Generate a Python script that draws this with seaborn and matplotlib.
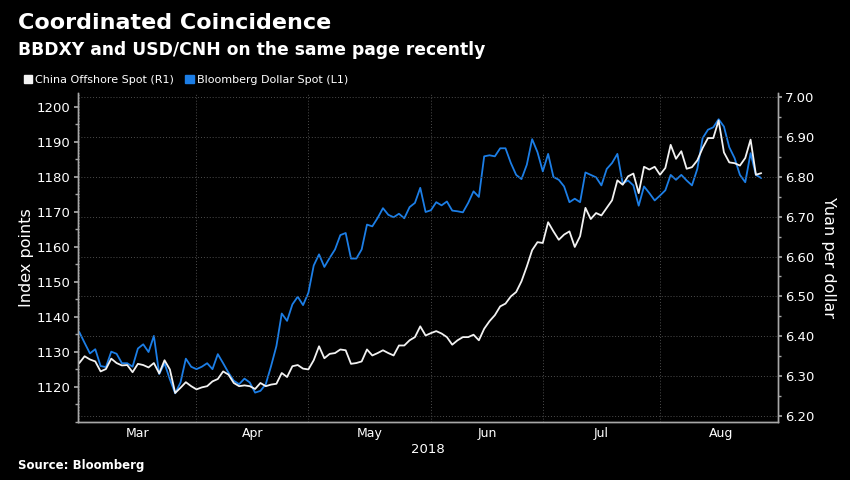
# Bloomberg-style dual axis chart: BBDXY vs USD/CNH, Mar-Aug 2018

import numpy as np
import pandas as pd
import seaborn as sns
import matplotlib.pyplot as plt
from matplotlib.patches import Patch
from matplotlib.ticker import MultipleLocator, FixedLocator, FormatStrFormatter

# business days shown on the chart
dates = pd.bdate_range('2018-03-01', '2018-08-28')
months = ['Mar', 'Apr', 'May', 'Jun', 'Jul', 'Aug']

# Bloomberg Dollar Spot index (left axis)
bbdxy = [1135.6, 1132.5, 1129.5, 1130.7, 1125.9, 1125.6, 1130.0, 1129.4, 1126.7, 1126.7,
         1125.7, 1130.9, 1132.1, 1129.9, 1134.5, 1123.6, 1126.7, 1122.1, 1118.1, 1121.2,
         1128.0, 1125.7, 1125.0, 1125.7, 1126.7, 1125.0, 1129.3, 1126.7, 1124.0, 1121.7,
         1120.7, 1122.3, 1121.2, 1118.3, 1118.8, 1120.7, 1125.9, 1131.6, 1140.9, 1138.8,
         1143.5, 1145.7, 1143.3, 1146.8, 1154.6, 1157.8, 1154.2, 1156.8, 1159.2, 1163.3,
         1163.9, 1156.6, 1156.6, 1159.2, 1166.3, 1165.8, 1168.2, 1171.0, 1169.1, 1168.4,
         1169.4, 1168.1, 1171.3, 1172.5, 1176.8, 1169.9, 1170.4, 1172.7, 1171.8, 1172.9,
         1170.3, 1170.1, 1169.8, 1172.5, 1175.8, 1174.2, 1185.8, 1186.1, 1185.8, 1188.1,
         1188.1, 1183.9, 1180.5, 1179.3, 1183.4, 1190.7, 1187.0, 1181.5, 1186.5, 1179.9,
         1179.1, 1177.2, 1172.7, 1173.7, 1172.7, 1181.2, 1180.5, 1179.8, 1177.5, 1182.2,
         1183.9, 1186.5, 1178.0, 1178.9, 1177.5, 1171.7, 1177.2, 1175.3, 1173.2, 1174.6,
         1176.1, 1180.5, 1179.1, 1180.5, 1178.9, 1177.5, 1182.2, 1191.0, 1193.4, 1194.1,
         1196.4, 1194.3, 1188.4, 1185.3, 1180.5, 1178.4, 1186.7, 1180.5, 1179.6]

# China offshore yuan spot (right axis)
cnh = [6.333, 6.350, 6.342, 6.337, 6.312, 6.318, 6.344, 6.333, 6.327, 6.328,
       6.310, 6.331, 6.328, 6.322, 6.333, 6.307, 6.340, 6.317, 6.258, 6.271,
       6.285, 6.275, 6.267, 6.272, 6.275, 6.287, 6.293, 6.312, 6.304, 6.283,
       6.275, 6.277, 6.275, 6.268, 6.283, 6.275, 6.279, 6.281, 6.308, 6.298,
       6.325, 6.328, 6.319, 6.317, 6.340, 6.375, 6.345, 6.356, 6.358, 6.367,
       6.365, 6.331, 6.333, 6.337, 6.367, 6.352, 6.358, 6.365, 6.358, 6.352,
       6.377, 6.377, 6.390, 6.398, 6.425, 6.402, 6.408, 6.413, 6.407, 6.398,
       6.379, 6.390, 6.398, 6.398, 6.404, 6.390, 6.419, 6.438, 6.453, 6.475,
       6.482, 6.500, 6.511, 6.538, 6.575, 6.616, 6.636, 6.634, 6.686, 6.663,
       6.642, 6.655, 6.663, 6.624, 6.651, 6.722, 6.694, 6.709, 6.703, 6.722,
       6.741, 6.791, 6.780, 6.801, 6.808, 6.759, 6.825, 6.818, 6.825, 6.805,
       6.822, 6.880, 6.845, 6.864, 6.820, 6.824, 6.841, 6.872, 6.897, 6.897,
       6.941, 6.861, 6.836, 6.834, 6.828, 6.847, 6.893, 6.805, 6.809]

blue = '#1c7ee6'
white = '#f2f2f2'
grid_col = '#4d4d4d'
spine_col = '#a8a8a8'

# x axis uses business-day positions, like the Bloomberg terminal
df = pd.DataFrame({'date': dates, 'bbdxy': bbdxy, 'cnh': cnh})
df['pos'] = np.arange(len(df))

# month boundaries (first business day of each month) in business-day units
month_starts = pd.date_range('2018-03-01', '2018-09-01', freq='MS')
start_pos = [np.busday_count(np.datetime64('2018-03-01'), np.datetime64(d.date())) for d in month_starts]
mid_pos = [(a + b) / 2 for a, b in zip(start_pos[:-1], start_pos[1:])]

sns.set_theme(style='dark', rc={
    'figure.facecolor': 'black', 'axes.facecolor': 'black',
    'text.color': 'white', 'axes.labelcolor': 'white',
    'xtick.color': 'white', 'ytick.color': 'white',
    'axes.edgecolor': spine_col,
})
plt.rcParams['font.family'] = ['DejaVu Sans']

fig = plt.figure(figsize=(8.5, 4.8), dpi=100)
ax = fig.add_axes([0.0914, 0.1215, 0.8236, 0.6848])
ax2 = ax.twinx()

sns.lineplot(data=df, x='pos', y='bbdxy', ax=ax, color=blue, linewidth=1.3)
sns.lineplot(data=df, x='pos', y='cnh', ax=ax2, color=white, linewidth=1.3)

# left axis
ax.set_ylim(1110, 1203.9)
ax.yaxis.set_minor_locator(MultipleLocator(5))
ax.set_yticks(range(1120, 1201, 10))
ax.set_ylabel('Index points', fontsize=11.5, labelpad=2)

# right axis
ax2.set_ylim(6.186, 7.01)
ax2.yaxis.set_major_locator(MultipleLocator(0.1))
ax2.yaxis.set_minor_locator(MultipleLocator(0.05))
ax2.yaxis.set_major_formatter(FormatStrFormatter('%.2f'))
ax2.set_ylabel('Yuan per dollar', fontsize=11.5, rotation=270, labelpad=16)

# x axis: tick marks at month starts, labels centred in each month
ax.set_xlim(-0.3, 131.1)
ax.xaxis.set_major_locator(FixedLocator(start_pos))
ax.xaxis.set_minor_locator(FixedLocator(mid_pos))
ax.set_xticklabels([])
ax.set_xticklabels(months, minor=True)
ax.tick_params(axis='x', which='minor', length=0, labelsize=9, pad=4)
ax.tick_params(axis='x', which='major', length=3, color=spine_col)
ax.set_xlabel('2018', fontsize=9.5, labelpad=2)

ax.tick_params(axis='y', which='major', length=3, color=spine_col, labelsize=9.5, pad=2, left=True)
ax.tick_params(axis='y', which='minor', length=2, color=spine_col, left=True)
ax2.tick_params(axis='y', which='major', length=3, color=spine_col, labelsize=9.5, pad=2, right=True)
ax2.tick_params(axis='y', which='minor', length=2, color=spine_col, right=True)

# dotted grid: vertical at month starts, horizontal at right-axis ticks
ax.grid(axis='x', which='major', color=grid_col, linestyle=(0, (1, 2)), linewidth=0.7)
ax.grid(axis='y', visible=False)
ax2.grid(axis='y', which='major', color=grid_col, linestyle=(0, (1, 2)), linewidth=0.7)
ax2.set_axisbelow(True)

for a in (ax, ax2):
    a.spines['top'].set_visible(False)
    for s in ('left', 'right', 'bottom'):
        a.spines[s].set_color(spine_col)
        a.spines[s].set_linewidth(1.0)

# titles and legend
fig.text(0.021, 0.953, 'Coordinated Coincidence', fontsize=16, weight='bold', va='center')
fig.text(0.021, 0.895, 'BBDXY and USD/CNH on the same page recently', fontsize=12.3,
         weight='bold', va='center')
handles = [Patch(color=white), Patch(color=blue)]
fig.legend(handles, ['China Offshore Spot (R1)', 'Bloomberg Dollar Spot (L1)'],
           loc='center left', bbox_to_anchor=(0.016, 0.834), ncol=2, frameon=False,
           fontsize=8, handlelength=0.75, handleheight=0.75, handletextpad=0.3,
           columnspacing=1.0, labelcolor='white')
fig.text(0.021, 0.031, 'Source: Bloomberg', fontsize=8.5, weight='bold', va='center')

fig.savefig('out.png', dpi=100, facecolor='black')
